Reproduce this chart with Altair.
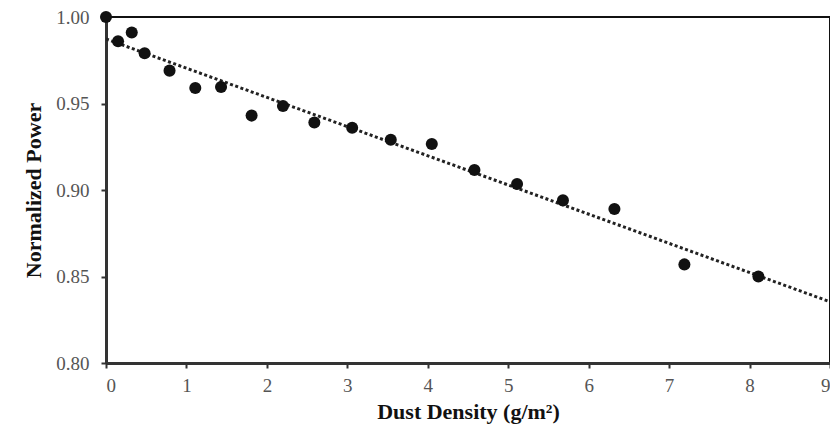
import altair as alt
import pandas as pd

dust_density = [0, 0.15, 0.32, 0.48, 0.79, 1.11, 1.43, 1.81, 2.20, 2.59, 3.06,
                3.54, 4.05, 4.58, 5.11, 5.68, 6.32, 7.19, 8.11]
normalized_power = [1.000, 0.986, 0.991, 0.979, 0.969, 0.959, 0.9595, 0.943, 0.9486,
                    0.939, 0.936, 0.929, 0.9266, 0.9116, 0.9035, 0.894, 0.889, 0.857, 0.850]
x_ticks = [0, 1, 2, 3, 4, 5, 6, 7, 8, 9]
y_ticks = [0.80, 0.85, 0.90, 0.95, 1.00]

df = pd.DataFrame({"x": dust_density, "y": normalized_power})

FONT = "Liberation Serif"

xs = alt.Scale(domain=[0, 9], nice=False, zero=False)
ys = alt.Scale(domain=[0.80, 1.00], nice=False, zero=False)

x_axis = alt.Axis(values=x_ticks, format="d", title="Dust Density (g/m²)", grid=False,
                  tickSize=5, labelPadding=8, titleBaseline="alphabetic", titleY=55)
y_axis = alt.Axis(values=y_ticks, format=".2f", title="Normalized Power", grid=False,
                  tickSize=5, labelPadding=12, titleBaseline="alphabetic", titleX=-66)

base = alt.Chart(df)

line = base.transform_regression("x", "y", extent=[0, 9]).mark_line(
    color="#222222", strokeWidth=3, strokeDash=[3, 2.5], clip=True
).encode(
    x=alt.X("x:Q", scale=xs, axis=x_axis),
    y=alt.Y("y:Q", scale=ys, axis=y_axis),
)

points = base.mark_point(filled=True, size=145, color="#111111", opacity=1, clip=False).encode(
    x=alt.X("x:Q", scale=xs),
    y=alt.Y("y:Q", scale=ys),
)

chart = alt.layer(line, points).properties(
    width=724, height=346,
    autosize=alt.AutoSizeParams(type="none"),
    padding={"left": 98, "top": 9, "right": 0, "bottom": 62},
    background="white",
).configure_view(
    stroke="#111111", strokeWidth=2
).configure_axis(
    domainColor="#333333", domainWidth=3, tickColor="#333333", tickWidth=2,
    labelFont=FONT, labelFontSize=19, labelColor="#555555",
    titleFont=FONT, titleFontSize=22, titleFontWeight="bold", titleColor="#111111",
)

chart.save("out.html", embed_options={"renderer": "svg", "actions": False})
